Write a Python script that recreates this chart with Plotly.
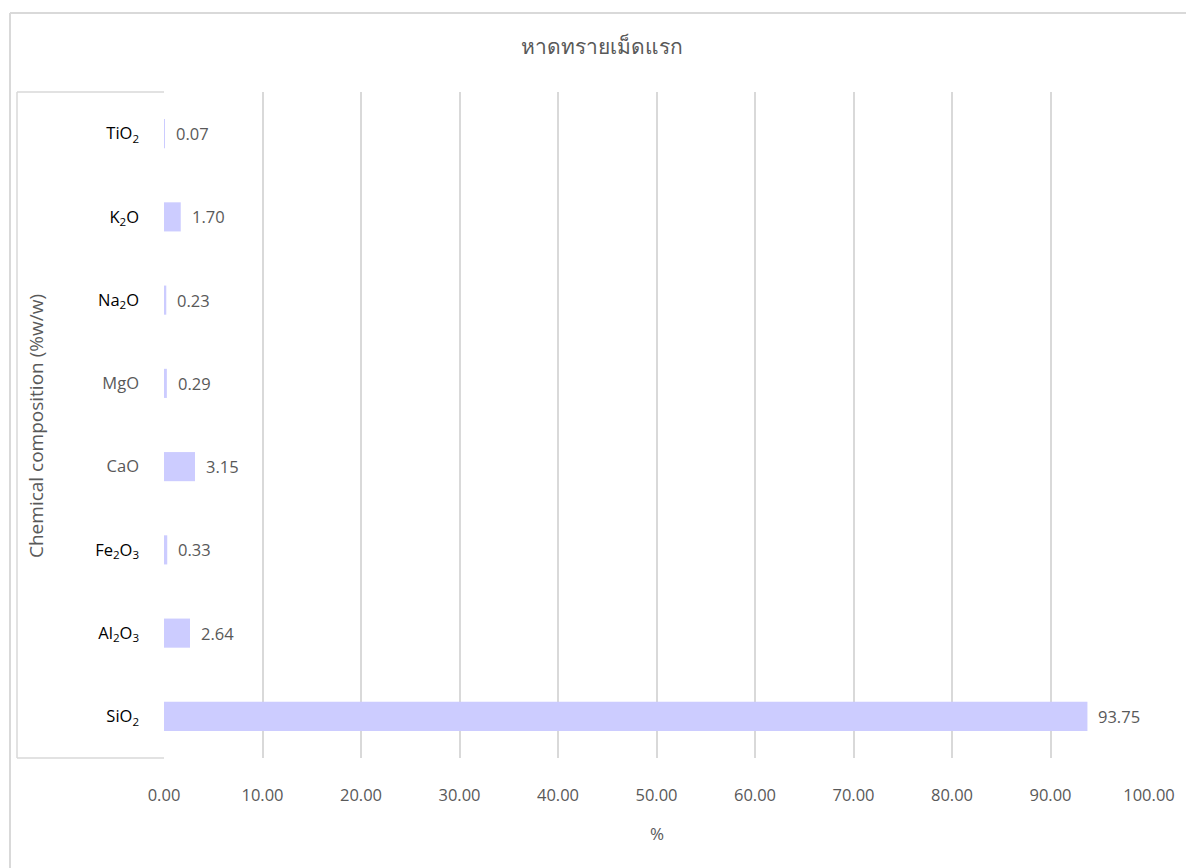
import plotly.graph_objects as go

# Chemical composition of the first sand beach sample (%w/w)
compounds = ["SiO<sub>2</sub>", "Al<sub>2</sub>O<sub>3</sub>", "Fe<sub>2</sub>O<sub>3</sub>", "CaO",
             "MgO", "Na<sub>2</sub>O", "K<sub>2</sub>O", "TiO<sub>2</sub>"]
label_colors = ["#000000", "#000000", "#000000", "#595959",
                "#595959", "#000000", "#000000", "#000000"]
values = [93.75, 2.64, 0.33, 3.15, 0.29, 0.23, 1.70, 0.07]
x_ticks = [0, 10, 20, 30, 40, 50, 60, 70, 80, 90, 100]

FONT = "Open Sans, Noto Sans, sans-serif"
GRID = "#D9D9D9"
TEXT = "#595959"

tick_text = [f"<span style='color:{c}'>{n}</span>" for n, c in zip(compounds, label_colors)]

fig = go.Figure()
fig.add_trace(go.Bar(
    x=values,
    y=compounds,
    orientation="h",
    width=0.35,
    marker=dict(color="#CCCCFF", line=dict(width=0)),
    hoverinfo="x+y",
))

# value labels next to each bar end
for cat, v in zip(compounds, values):
    fig.add_annotation(
        x=v, y=cat, xref="x", yref="y",
        text=f"{v:.2f}", showarrow=False,
        xanchor="left", yanchor="middle", xshift=9,
        font=dict(family=FONT, size=16.5, color=TEXT),
    )

W, H = 1186, 868
L, R, T, B = 164, 37, 92, 110
pw, ph = W - L - R, H - T - B


def px_x(p):
    return (p - L) / pw


def px_y(p):
    return (H - B - p) / ph


line_style = dict(color=GRID, width=1.5)
shapes = [
    # frame around the category labels
    dict(type="line", xref="paper", yref="paper", x0=px_x(17), x1=0, y0=1, y1=1, line=line_style),
    dict(type="line", xref="paper", yref="paper", x0=px_x(17), x1=0, y0=0, y1=0, line=line_style),
    dict(type="line", xref="paper", yref="paper", x0=px_x(17), x1=px_x(17), y0=0, y1=1, line=line_style),
    # outer chart border
    dict(type="line", xref="paper", yref="paper", x0=px_x(10), x1=px_x(W + 5), y0=px_y(13), y1=px_y(13),
         line=dict(color=GRID, width=2)),
    dict(type="line", xref="paper", yref="paper", x0=px_x(10), x1=px_x(10), y0=px_y(13), y1=px_y(H + 5),
         line=dict(color=GRID, width=2)),
]

fig.add_annotation(
    x=px_x(36), y=px_y(426), xref="paper", yref="paper",
    text="Chemical composition (%w/w)", textangle=-90, showarrow=False,
    xanchor="center", yanchor="middle",
    font=dict(family=FONT, size=19, color=TEXT),
)
fig.add_annotation(
    x=px_x(657), y=px_y(833), xref="paper", yref="paper",
    text="%", showarrow=False, xanchor="center", yanchor="middle",
    font=dict(family=FONT, size=17, color=TEXT),
)

fig.update_layout(
    width=W, height=H,
    margin=dict(l=L, r=R, t=T, b=B),
    paper_bgcolor="white", plot_bgcolor="white",
    showlegend=False,
    title=dict(
        text="หาดทรายเม็ดแรก",
        xref="container", yref="container",
        x=602 / W, y=1 - 47 / H, xanchor="center", yanchor="middle",
        font=dict(family=FONT, size=21, color=TEXT),
    ),
    shapes=shapes,
    font=dict(family=FONT, color=TEXT),
)

fig.update_xaxes(
    range=[0, 100],
    tickvals=x_ticks,
    tickformat=".2f",
    showgrid=True, gridcolor=GRID, gridwidth=1.5,
    zeroline=False, showline=False,
    ticks="", ticklabelstandoff=25,
    tickfont=dict(family=FONT, size=16.5, color=TEXT),
)
fig.update_yaxes(
    categoryorder="array", categoryarray=compounds,
    tickvals=compounds, ticktext=tick_text,
    showgrid=False, zeroline=False,
    showline=False, ticks="", ticklabelstandoff=24,
    tickfont=dict(family=FONT, size=16.5, color="#000000"),
)

fig.write_html("out.html")
